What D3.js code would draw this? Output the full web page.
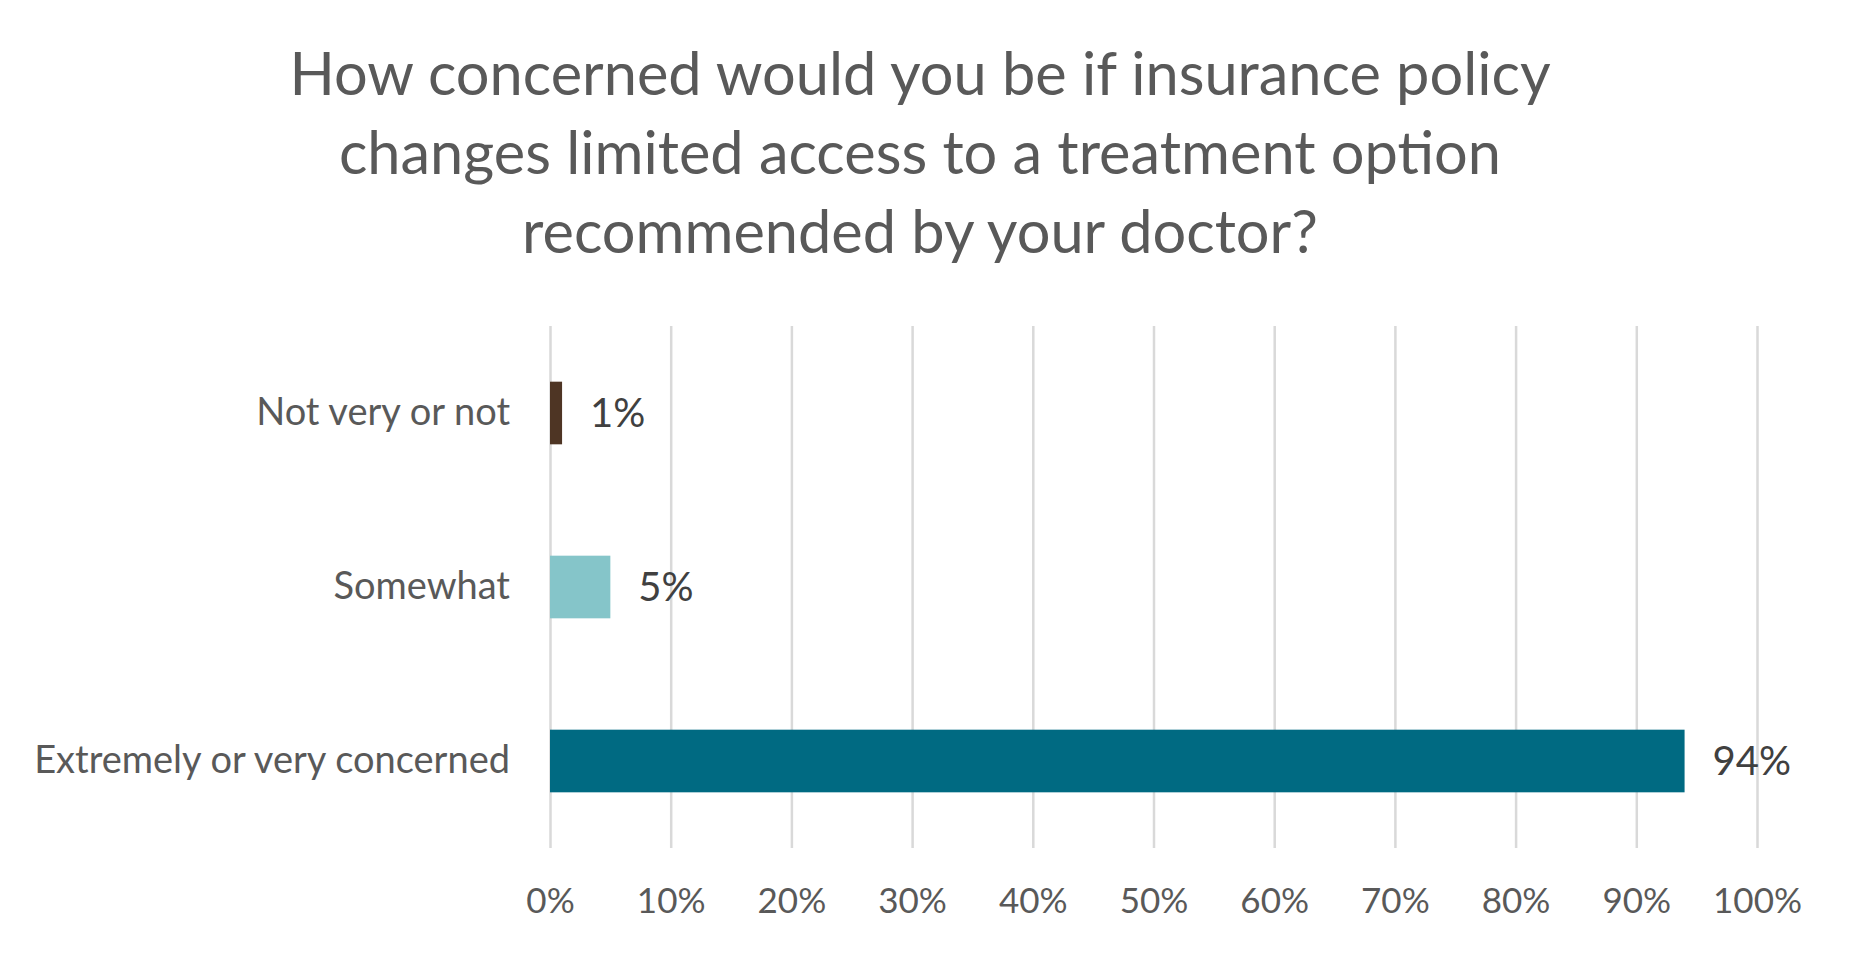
<!DOCTYPE html>
<html>
<head>
<meta charset="utf-8">
<script src="https://cdn.jsdelivr.net/npm/d3@7"></script>
<style>
  body { margin: 0; background: #fff; }
  svg { display: block; font-family: Lato, "Open Sans", sans-serif; }
</style>
</head>
<body>
<svg id="chart" width="1860" height="962"></svg>
<script>
const titleLines = [
  "How concerned would you be if insurance policy",
  "changes limited access to a treatment option",
  "recommended by your doctor?"
]
const categories = ["Not very or not", "Somewhat", "Extremely or very concerned"]
const values = [0.01, 0.05, 0.94]
const valueLabels = ["1%", "5%", "94%"]
const barColors = ["#4e3524", "#85c5c9", "#006a82"]
const tickValues = [0, 0.1, 0.2, 0.3, 0.4, 0.5, 0.6, 0.7, 0.8, 0.9, 1]

const svg = d3.select("#chart")
const textColor = "#595959"
const fontFamily = "Lato, 'Open Sans', sans-serif"
const margin = {left: 550, right: 103, top: 326, bottom: 114}
const width = +svg.attr("width")
const height = +svg.attr("height")

// title
svg.append("g")
  .selectAll("text")
  .data(titleLines)
  .join("text")
  .attr("x", 920)
  .attr("y", (d, i) => 95 + i * 79)
  .attr("text-anchor", "middle")
  .attr("fill", textColor)
  .style("font-size", "59.5px")
  .text(d => d)

const x = d3.scaleLinear()
  .domain([0, 1])
  .range([margin.left, width - margin.right])

const y = d3.scaleBand()
  .domain(categories)
  .range([margin.top, height - margin.bottom])
  .paddingInner(0.64)
  .paddingOuter(0.32)

// gridlines + tick labels
const xAxis = svg.append("g")
  .attr("transform", `translate(0, ${height - margin.bottom})`)
  .call(d3.axisBottom(x)
    .tickValues(tickValues)
    .tickFormat(d3.format(".0%"))
    .tickSize(-(height - margin.bottom - margin.top)))
  .attr("font-family", fontFamily)
xAxis.select(".domain").remove()
xAxis.selectAll(".tick line").attr("stroke", "#d9d9d9").attr("stroke-width", 2.5)
xAxis.selectAll(".tick text")
  .attr("y", 65).attr("dy", 0)
  .attr("fill", textColor)
  .style("font-size", "35px")

// category labels
const yAxis = svg.append("g")
  .attr("transform", `translate(${margin.left}, 0)`)
  .call(d3.axisLeft(y).tickSize(0).tickPadding(40))
  .attr("font-family", fontFamily)
yAxis.select(".domain").remove()
yAxis.selectAll(".tick text")
  .attr("fill", textColor)
  .style("font-size", "38px")

const data = categories.map((c, i) => ({cat: c, value: values[i], label: valueLabels[i], color: barColors[i]}))

svg.append("g")
  .selectAll("rect")
  .data(data)
  .join("rect")
  .attr("x", x(0))
  .attr("y", d => y(d.cat))
  .attr("width", d => x(d.value) - x(0))
  .attr("height", y.bandwidth())
  .attr("fill", d => d.color)

svg.append("g")
  .selectAll("text")
  .data(data)
  .join("text")
  .attr("x", d => x(d.value) + 28)
  .attr("y", d => y(d.cat) + y.bandwidth() / 2)
  .attr("dy", "0.36em")
  .attr("fill", "#404040")
  .style("font-size", "40px")
  .text(d => d.label)
</script>
</body>
</html>
